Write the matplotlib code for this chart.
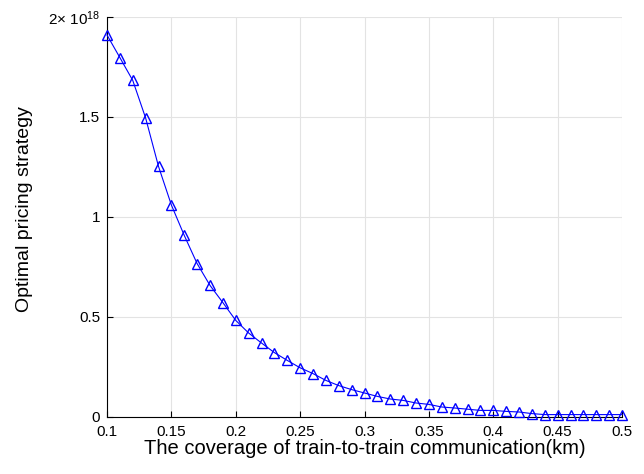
import matplotlib
matplotlib.use('Agg')
import matplotlib.pyplot as plt
import numpy as np

plt.rcParams['font.family'] = ['Liberation Sans', 'DejaVu Sans']
plt.rcParams['mathtext.fontset'] = 'custom'
plt.rcParams['mathtext.rm'] = 'Liberation Sans'
plt.rcParams['mathtext.it'] = 'Liberation Sans:italic'

# coverage (km) and optimal price (units of 1e18)
coverage = np.round(np.arange(0.10, 0.501, 0.01), 2)
price = [1.91, 1.797, 1.683, 1.495, 1.253, 1.06, 0.908, 0.767, 0.658, 0.572,
         0.483, 0.42, 0.37, 0.322, 0.283, 0.246, 0.217, 0.183, 0.157, 0.137,
         0.12, 0.103, 0.09, 0.083, 0.07, 0.063, 0.05, 0.045, 0.039, 0.033,
         0.033, 0.028, 0.025, 0.017, 0.012, 0.012, 0.012, 0.012, 0.012, 0.012,
         0.012]
price = np.array(price) * 1e18

yticks = np.array([0, 0.5, 1, 1.5, 2]) * 1e18
ytick_labels = ['0', '0.5', '1', '1.5', r'2$\times$ 10$^{18}$']
xticks = [0.1, 0.15, 0.2, 0.25, 0.3, 0.35, 0.4, 0.45, 0.5]
xtick_labels = ['0.1', '0.15', '0.2', '0.25', '0.3', '0.35', '0.4', '0.45', '0.5']

fig = plt.figure(figsize=(6.44, 4.74), dpi=100)
ax = fig.add_axes([107/644, 57/474, 515/644, 400/474])

ax.plot(coverage, price, color='blue', lw=0.8, marker='^', markersize=7,
        markerfacecolor='none', markeredgecolor='blue', markeredgewidth=1.0,
        clip_on=False, zorder=3)

ax.set_xlim(0.1, 0.5)
ax.set_ylim(0, 2e18)
ax.set_xticks(xticks)
ax.set_xticklabels(xtick_labels)
ax.set_yticks(yticks)
ax.set_yticklabels(ytick_labels)

ax.grid(True, color='#e3e3e3', lw=0.8)
ax.set_axisbelow(True)
for s in ['top', 'right']:
    ax.spines[s].set_visible(False)
for s in ['left', 'bottom']:
    ax.spines[s].set_linewidth(0.8)
ax.tick_params(direction='in', length=4, width=0.8, labelsize=11)
ax.tick_params(axis='x', pad=6)
ax.tick_params(axis='y', pad=5)

ax.set_xlabel('The coverage of train-to-train communication(km)', fontsize=14.5, labelpad=0)
ax.set_ylabel('Optimal pricing strategy', fontsize=14)
ax.yaxis.set_label_coords(-(107 - 33) / 515, 0.52)

fig.savefig('out.png', dpi=100)
